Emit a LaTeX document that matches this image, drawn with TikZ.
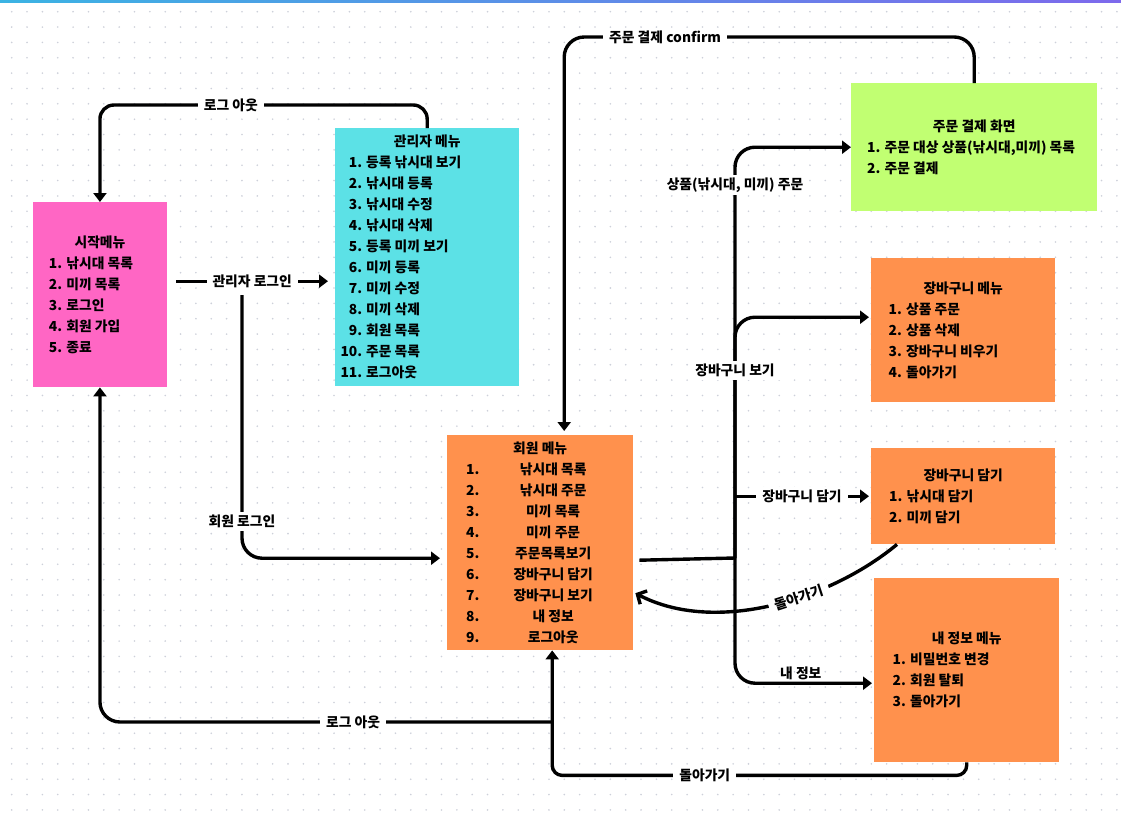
\documentclass[tikz,border=0pt]{standalone}
\usepackage{fontspec}
\newfontfamily\krfont{Noto Sans CJK KR}
\usetikzlibrary{arrows.meta}

\definecolor{pinkbox}{HTML}{FF66C4}
\definecolor{cyanbox}{HTML}{5CE1E6}
\definecolor{greenbox}{HTML}{C1FF72}
\definecolor{orangebox}{HTML}{FF914D}
\definecolor{griddot}{HTML}{CDD0DA}
\definecolor{barleft}{HTML}{3BB3E3}
\definecolor{barright}{HTML}{7D69EC}

\newcommand\krtext{\krfont\bfseries\fontsize{13.8pt}{21pt}\selectfont}

\tikzset{
  menubox/.style={rectangle, anchor=north west, inner sep=0pt, align=left, font=\krtext},
  flow/.style={line width=3.4pt, rounded corners=20pt, -{Triangle[length=9pt,width=13pt]}},
  backflow/.style={line width=3.4pt, -{Straight Barb[length=7pt,width=15pt]}},
  plain/.style={line width=3.4pt},
  tag/.style={fill=white, inner xsep=6pt, inner ysep=3pt, font=\krtext, rounded corners=0pt},
}

\begin{document}
\begin{tikzpicture}[x=1pt, y=-1pt]
  % canvas and dotted grid
  \fill[white] (0,0) rectangle (1121,814);
  \useasboundingbox (0,0) rectangle (1121,814);
  \shade[left color=barleft, right color=barright] (0,0) rectangle (1121,2);
  \foreach \gx in {0,...,72} {
    \foreach \gy in {0,...,52} {
      \fill[griddot] ({11.7+15.35*\gx},{11.7+15.35*\gy}) circle (0.9pt);
    }
  }

  % menus
  \node[menubox, fill=pinkbox, minimum width=134.5pt, minimum height=185pt] (start) at (32.5,202)
    {\makebox[102pt]{시작메뉴}\\
     1. 낚시대 목록\\ 2. 미끼 목록\\ 3. 로그인\\ 4. 회원 가입\\ 5. 종료};

  \node[menubox, fill=cyanbox, minimum width=184pt, minimum height=258pt] (admin) at (335,128)
    {\makebox[166pt]{관리자 메뉴}\\
     \makebox[18pt][r]{1.}\hspace{4pt}등록 낚시대 보기\\
     \makebox[18pt][r]{2.}\hspace{4pt}낚시대 등록\\
     \makebox[18pt][r]{3.}\hspace{4pt}낚시대 수정\\
     \makebox[18pt][r]{4.}\hspace{4pt}낚시대 삭제\\
     \makebox[18pt][r]{5.}\hspace{4pt}등록 미끼 보기\\
     \makebox[18pt][r]{6.}\hspace{4pt}미끼 등록\\
     \makebox[18pt][r]{7.}\hspace{4pt}미끼 수정\\
     \makebox[18pt][r]{8.}\hspace{4pt}미끼 삭제\\
     \makebox[18pt][r]{9.}\hspace{4pt}회원 목록\\
     \makebox[18pt][r]{10.}\hspace{4pt}주문 목록\\
     \makebox[18pt][r]{11.}\hspace{4pt}로그아웃};

  \node[menubox, fill=greenbox, minimum width=246pt, minimum height=128pt] (pay) at (851,83)
    {\makebox[214pt]{주문 결제 화면}\\
     1. 주문 대상 상품(낚시대,미끼) 목록\\ 2. 주문 결제};

  \node[menubox, fill=orangebox, minimum width=184pt, minimum height=144pt] (cart) at (871,258)
    {\makebox[149pt]{장바구니 메뉴}\\
     1. 상품 주문\\ 2. 상품 삭제\\ 3. 장바구니 비우기\\ 4. 돌아가기};

  \node[menubox, fill=orangebox, minimum width=184pt, minimum height=96pt] (put) at (871,448)
    {\makebox[148pt]{장바구니 담기}\\
     1. 낚시대 담기\\ 2. 미끼 담기};

  \node[menubox, fill=orangebox, minimum width=186pt, minimum height=215pt] (member) at (447,435)
    {\makebox[148pt]{회원 메뉴}\\
     \makebox[26pt][l]{1.}\makebox[122pt]{낚시대 목록}\\
     \makebox[26pt][l]{2.}\makebox[122pt]{낚시대 주문}\\
     \makebox[26pt][l]{3.}\makebox[122pt]{미끼 목록}\\
     \makebox[26pt][l]{4.}\makebox[122pt]{미끼 주문}\\
     \makebox[26pt][l]{5.}\makebox[122pt]{주문목록보기}\\
     \makebox[26pt][l]{6.}\makebox[122pt]{장바구니 담기}\\
     \makebox[26pt][l]{7.}\makebox[122pt]{장바구니 보기}\\
     \makebox[26pt][l]{8.}\makebox[122pt]{내 정보}\\
     \makebox[26pt][l]{9.}\makebox[122pt]{로그아웃}};

  \node[menubox, fill=orangebox, minimum width=185pt, minimum height=184pt] (info) at (874,578)
    {\makebox[148pt]{내 정보 메뉴}\\
     1. 비밀번호 변경\\ 2. 회원 탈퇴\\ 3. 돌아가기};

  % junction points
  \coordinate (split) at (242,295);
  \coordinate (hub) at (735,558);
  \coordinate (logout) at (552,722);

  % admin: log out back to the start menu
  \draw[flow, rounded corners=14pt] (admin.north) -- ++(0,-23)
    -| node[tag, pos=0.3] {로그 아웃} (start.north);

  % start menu: admin login
  \draw[flow] ([xshift=9pt,yshift=13.5pt]start.east)
    -- node[tag] {관리자 로그인} ([xshift=-7pt,yshift=-24pt]admin.west);

  % member login
  \draw[flow] (split) |- node[tag, pos=0.43] {회원 로그인} ([xshift=-7pt,yshift=-15.5pt]member.west);

  % member: log out back to the start menu
  \draw[flow] (logout) -| node[tag, pos=0.22] {로그 아웃} (start.south);

  % my info: back to the member menu
  \draw[flow, rounded corners=10pt] (info.south) -- ++(0,13)
    -| node[tag, pos=0.316] {돌아가기} ([xshift=12pt]member.south);

  % payment confirmed: back to the member menu
  \draw[flow] (pay.north) -- ++(0,-46)
    -| node[tag, pos=0.377] {주문 결제 confirm} ([xshift=24pt,yshift=4pt]member.north);

  % member menu trunk
  \draw[plain] ([xshift=6pt,yshift=-17.5pt]member.east) -- (hub);
  \draw[flow] (hub) |- node[tag, pos=0.454] {상품(낚시대, 미끼) 주문} (pay.west);
  \draw[flow] (hub) |- node[tag, pos=0.39] {장바구니 보기} ([xshift=-2pt,yshift=13pt]cart.west);
  \draw[flow] (hub |- put.west) -- node[tag] {장바구니 담기} ([xshift=-2pt]put.west);
  \draw[flow] (hub) |- node[pos=0.74, above, inner sep=2pt, font=\krtext] {내 정보} ([xshift=-2pt,yshift=-13pt]info.west);

  % cart: back to the member menu
  \draw[backflow] ([xshift=26pt]put.south west) .. controls (830,600) and (715,635) ..
    node[tag, pos=0.4, sloped] {돌아가기} ([xshift=2pt,yshift=-50.5pt]member.east);
\end{tikzpicture}
\end{document}
